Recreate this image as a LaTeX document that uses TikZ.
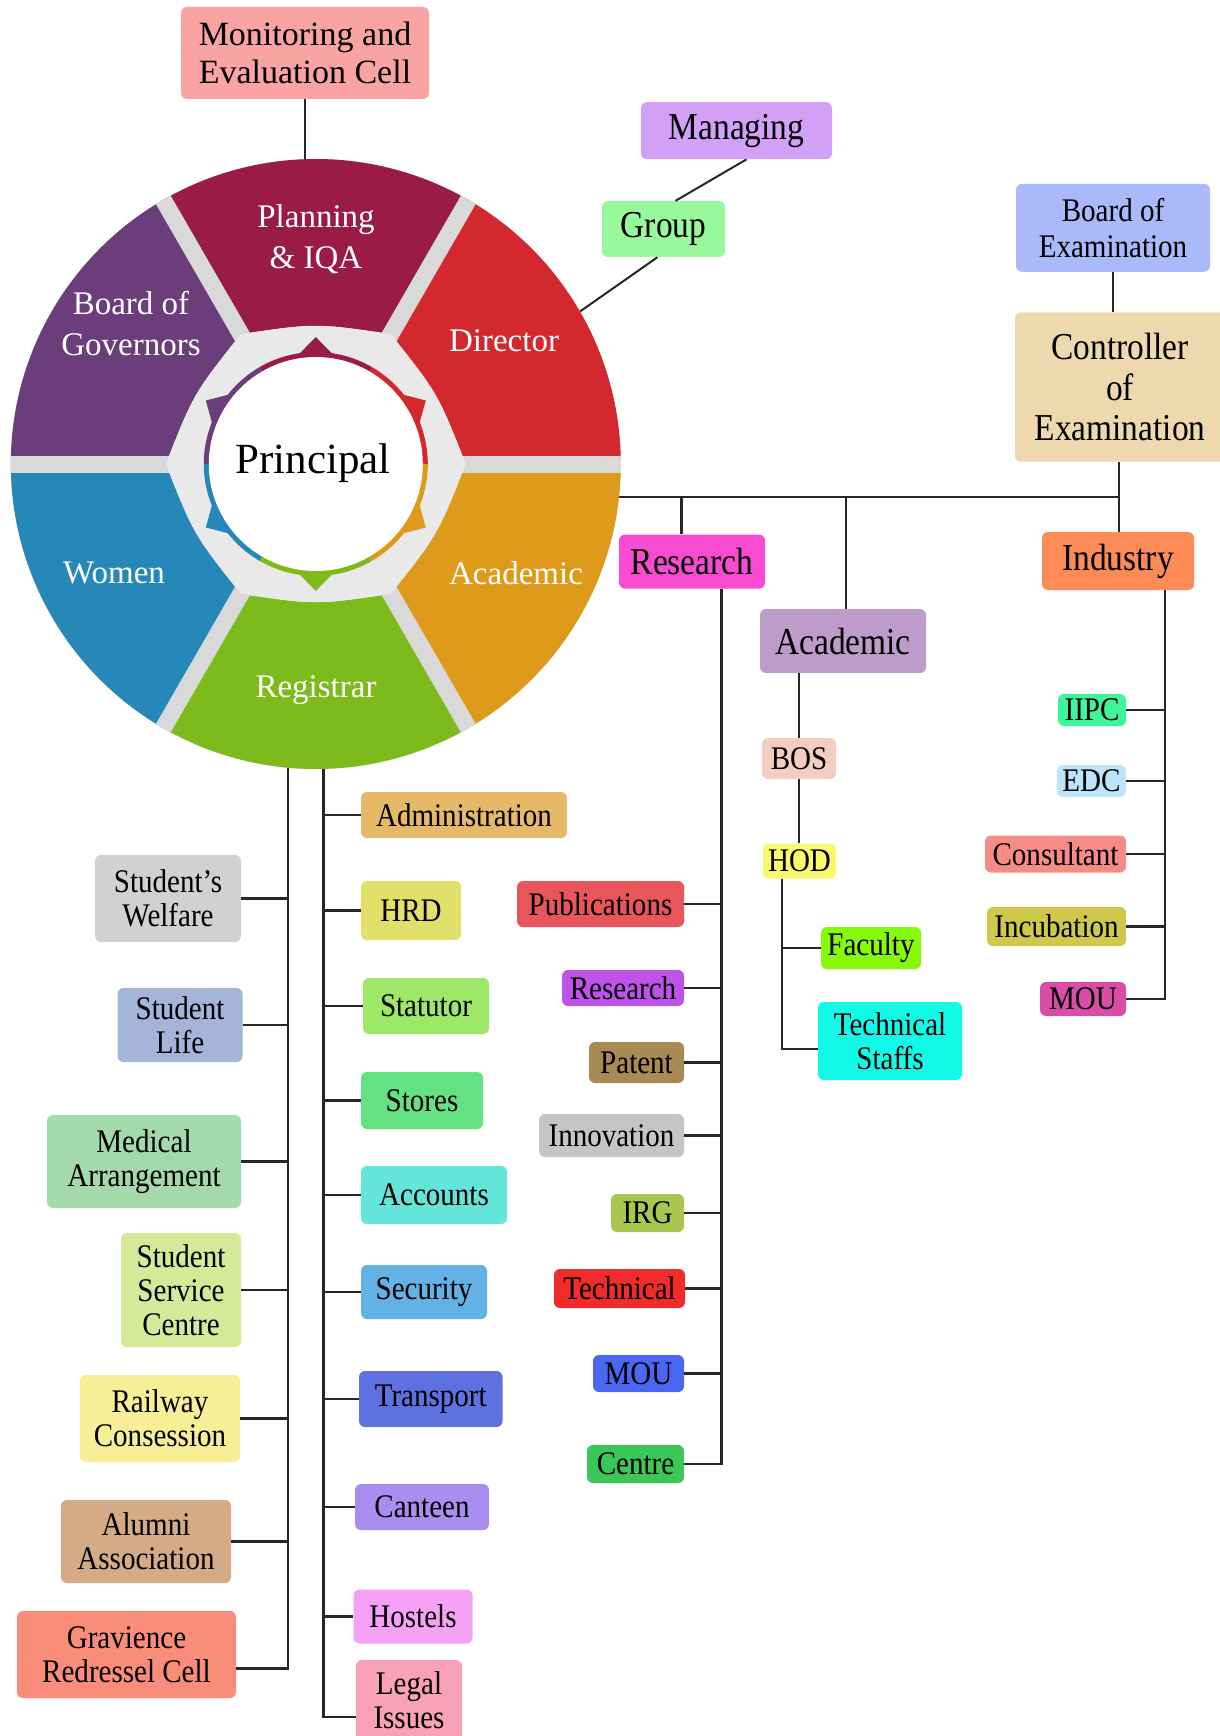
\documentclass[tikz,border=0pt]{standalone}
\usepackage{fontspec}
\setmainfont{Liberation Serif}
\newfontfamily\cf[FakeStretch=0.88]{Liberation Serif}
\definecolor{cplan}{HTML}{9A1B45}
\definecolor{cdir}{HTML}{D4282F}
\definecolor{cacad}{HTML}{DE9A1A}
\definecolor{creg}{HTML}{7DBB1C}
\definecolor{cwomen}{HTML}{2688B9}
\definecolor{cboard}{HTML}{6B3E7B}
\definecolor{gapgray}{HTML}{D9D9D9}
\definecolor{ringgray}{HTML}{E9E9E9}
\definecolor{cmec}{HTML}{F9A4A2}
\definecolor{cmanag}{HTML}{D3A0F8}
\definecolor{cgroup}{HTML}{97F99B}
\definecolor{cboe}{HTML}{A9B9F9}
\definecolor{ccoe}{HTML}{EED9AF}
\definecolor{cresearch}{HTML}{F94BD1}
\definecolor{cindustry}{HTML}{FD8B56}
\definecolor{cacadbox}{HTML}{BD9CC9}
\definecolor{cbos}{HTML}{F3CDBF}
\definecolor{chod}{HTML}{FAF86B}
\definecolor{cfac}{HTML}{87FA0C}
\definecolor{ctech}{HTML}{10FAE7}
\definecolor{cpub}{HTML}{E8565B}
\definecolor{cres2}{HTML}{BF52E9}
\definecolor{cpatent}{HTML}{A88B53}
\definecolor{cinnov}{HTML}{C5C5C5}
\definecolor{cirg}{HTML}{A9C74F}
\definecolor{ctechn}{HTML}{EF2B2B}
\definecolor{cmou1}{HTML}{4A67F1}
\definecolor{ccentre}{HTML}{3BC657}
\definecolor{ciipc}{HTML}{3FF59B}
\definecolor{cedc}{HTML}{BDE5F9}
\definecolor{ccons}{HTML}{F78B85}
\definecolor{cincub}{HTML}{CEC94B}
\definecolor{cmou2}{HTML}{D94DA9}
\definecolor{csw}{HTML}{D1D1D1}
\definecolor{csl}{HTML}{A5B5D9}
\definecolor{cma}{HTML}{A3D9AB}
\definecolor{cssc}{HTML}{D5E999}
\definecolor{crc}{HTML}{F7EF97}
\definecolor{caa}{HTML}{D5AB85}
\definecolor{cgrc}{HTML}{FA8D79}
\definecolor{cadmin}{HTML}{E5B967}
\definecolor{chrd}{HTML}{E1E169}
\definecolor{cstat}{HTML}{9DE967}
\definecolor{cstores}{HTML}{63E183}
\definecolor{cacc}{HTML}{63E5D9}
\definecolor{csec}{HTML}{63B1E5}
\definecolor{ctrans}{HTML}{5D71E1}
\definecolor{ccant}{HTML}{A98DEF}
\definecolor{chost}{HTML}{F5A1F5}
\definecolor{clegal}{HTML}{F9A1B9}
\begin{document}
\begin{tikzpicture}[x=1pt,y=-1pt,
  conn/.style={line width=2.4pt, draw=black!85},
  box/.style={rounded corners=6pt, inner sep=0pt, align=center, text=black, font=\cf\fontsize{33}{34}\selectfont},
  bigbox/.style={box, font=\cf\fontsize{38}{41}\selectfont},
  seg/.style={text=white, align=center, inner sep=0pt, font=\fontsize{33}{41}\selectfont}]
\fill[white] (0,0) rectangle (1219,1736);
\useasboundingbox (0,0) rectangle (1219,1736);

% ---------- top boxes
\node[box, fill=cmec, minimum width=248pt, minimum height=92pt, font=\fontsize{34}{38}\selectfont] (mec) at (305,53) {Monitoring and\\Evaluation Cell};
\node[bigbox, fill=cmanag, minimum width=191pt, minimum height=57pt] (managing) at (736.5,130.7) {Managing};
\node[bigbox, fill=cgroup, minimum width=123pt, minimum height=56pt] (group) at (663.5,229) {Group};
\node[box, fill=cboe, minimum width=194pt, minimum height=88pt, font=\cf\fontsize{33}{35.6}\selectfont] (boe) at (1113,227.8) {Board of\\Examination};
\node[box, fill=ccoe, minimum width=210pt, minimum height=149.4pt, font=\cf\fontsize{38}{40.5}\selectfont] (coe) at (1120,387) {Controller\\of\\Examination};
\node[bigbox, fill=cresearch, minimum width=146pt, minimum height=54pt] (research) at (692,561.5) {Research};
\node[bigbox, fill=cindustry, minimum width=152pt, minimum height=58pt] (industry) at (1118,561) {Industry};
\node[bigbox, fill=cacadbox, minimum width=166pt, minimum height=64pt] (academic) at (843,641) {Academic};

% ---------- academic branch
\node[box, fill=cbos, minimum width=74pt, minimum height=41pt] (bos) at (799,758.5) {BOS};
\node[box, fill=chod, minimum width=73pt, minimum height=35pt] (hod) at (799.5,861) {HOD};
\node[box, fill=cfac, minimum width=100pt, minimum height=42pt] (faculty) at (871,948) {Faculty};
\node[box, fill=ctech, minimum width=144pt, minimum height=78pt] (techstaffs) at (890,1041) {Technical\\Staffs};

% ---------- research branch
\node[box, fill=cpub, minimum width=167pt, minimum height=46pt] (pub) at (600.5,904) {Publications};
\node[box, fill=cres2, minimum width=122pt, minimum height=36pt] (res2) at (623,988) {Research};
\node[box, fill=cpatent, minimum width=95pt, minimum height=41pt] (patent) at (636.5,1062.5) {Patent};
\node[box, fill=cinnov, minimum width=145pt, minimum height=43pt] (innov) at (611.5,1135.5) {Innovation};
\node[box, fill=cirg, minimum width=73pt, minimum height=38pt] (irg) at (647.5,1213) {IRG};
\node[box, fill=ctechn, minimum width=131pt, minimum height=39pt] (tech) at (619.5,1288.5) {Technical};
\node[box, fill=cmou1, minimum width=91pt, minimum height=37pt] (mou1) at (638.5,1373.5) {MOU};
\node[box, fill=ccentre, minimum width=97pt, minimum height=38pt] (centre) at (635.5,1464) {Centre};

% ---------- industry branch
\node[box, fill=ciipc, minimum width=68pt, minimum height=32pt] (iipc) at (1092,710) {IIPC};
\node[box, fill=cedc, minimum width=69pt, minimum height=32pt] (edc) at (1091.5,781) {EDC};
\node[box, fill=ccons, minimum width=141pt, minimum height=37pt] (consultant) at (1055.5,854) {Consultant};
\node[box, fill=cincub, minimum width=139pt, minimum height=39pt] (incubation) at (1056.5,926.5) {Incubation};
\node[box, fill=cmou2, minimum width=86pt, minimum height=34pt] (mou2) at (1083,999) {MOU};

% ---------- registrar left
\node[box, fill=csw, minimum width=146pt, minimum height=87pt] (sw) at (168,898.5) {Student’s\\Welfare};
\node[box, fill=csl, minimum width=125pt, minimum height=74pt] (sl) at (180,1025) {Student\\Life};
\node[box, fill=cma, minimum width=194pt, minimum height=93pt] (ma) at (144,1161.5) {Medical\\Arrangement};
\node[box, fill=cssc, minimum width=120pt, minimum height=114pt] (ssc) at (181,1290) {Student\\Service\\Centre};
\node[box, fill=crc, minimum width=160pt, minimum height=87pt] (rc) at (160,1418.5) {Railway\\Consession};
\node[box, fill=caa, minimum width=170pt, minimum height=83pt] (aa) at (146,1541.5) {Alumni\\Association};
\node[box, fill=cgrc, minimum width=219pt, minimum height=87pt] (grc) at (126.5,1654.5) {Gravience\\Redressel Cell};

% ---------- registrar right
\node[box, fill=cadmin, minimum width=206pt, minimum height=46pt] (admin) at (464,815) {Administration};
\node[box, fill=chrd, minimum width=100pt, minimum height=59pt] (hrd) at (411,910.5) {HRD};
\node[box, fill=cstat, minimum width=126pt, minimum height=56pt] (stat) at (426,1006) {Statutor};
\node[box, fill=cstores, minimum width=122pt, minimum height=57pt] (stores) at (422,1100.5) {Stores};
\node[box, fill=cacc, minimum width=146pt, minimum height=58pt] (accounts) at (434,1195) {Accounts};
\node[box, fill=csec, minimum width=126pt, minimum height=54pt] (security) at (424,1292) {Security};
\node[box, fill=ctrans, minimum width=143.5pt, minimum height=56pt] (transport) at (430.75,1399) {Transport};
\node[box, fill=ccant, minimum width=134pt, minimum height=46pt] (canteen) at (422,1507) {Canteen};
\node[box, fill=chost, minimum width=119pt, minimum height=54pt] (hostels) at (413,1616.5) {Hostels};
\node[box, fill=clegal, minimum width=106pt, minimum height=80pt] (legal) at (409,1700) {Legal\\Issues};

% ---------- wheel anchor node
\node[circle, inner sep=0pt, minimum size=610pt] (wheel) at (315.8,464) {};

% ---------- connectors
\coordinate (jr) at (681.5,497);
\coordinate (ja) at (846,497);
\coordinate (jc) at (1119,497);
\coordinate (rv) at (721.5,0);
\coordinate (iv) at (1165,0);
\coordinate (hv) at (782,0);
\coordinate (lv) at (287.7,0);
\coordinate (lvend) at (287.7,1668.5);
\coordinate (rr) at (323.5,0);

\draw[conn] (mec.south) -- (mec.south |- wheel.center);
\draw[conn, line width=2pt] ([xshift=10pt]managing.south) -- ([xshift=12pt]group.north);
\draw[conn, line width=2pt] ([xshift=-6pt]group.south) -- (wheel.30.8);
\draw[conn] (boe.south) -- (boe.south |- coe.north);
\draw[conn] (wheel.center |- jc) -- (jc);
\draw[conn] (coe.south -| jc) -- (jc |- industry.north);
\draw[conn] (jr) -- (jr |- research.north);
\draw[conn] (ja) -- (ja |- academic.north);

\draw[conn] (bos.north |- academic.south) -- (bos.north);
\draw[conn] (bos.south) -- (bos.south |- hod.north);
\draw[conn] (hv |- hod.south) |- ([yshift=-8pt]techstaffs.west);
\draw[conn] (faculty.west) -- (faculty.west -| hv);

\draw[conn] (rv |- research.south) |- (centre.east);
\foreach \n in {pub,res2,patent,innov,irg,tech,mou1}
  \draw[conn] (\n.east) -- (\n.east -| rv);

\draw[conn] (iv |- industry.south) |- (mou2.east);
\foreach \n in {iipc,edc,consultant,incubation}
  \draw[conn] (\n.east) -- (\n.east -| iv);

\draw[conn] (lv |- wheel.center) -- (lvend) -- ([yshift=-14pt]grc.east);
\foreach \n in {sw,sl,ma,ssc,rc,aa}
  \draw[conn] (\n.east) -- (\n.east -| lv);

\draw[conn] (rr |- wheel.center) |- ([yshift=-17pt]legal.west);
\foreach \n in {admin,hrd,stat,stores,accounts,security,transport,canteen,hostels}
  \draw[conn] (\n.west) -- (\n.west -| rr);

% ---------- wheel
\begin{scope}[shift={(315.8,464)}, y=1pt]
  \fill[gapgray] (0,0) circle (305);
  \foreach \a/\c [evaluate=\a as \b using \a+60, evaluate=\a as \m using \a+30] in {0/cdir,60/cplan,120/cboard,180/cwomen,240/creg,300/cacad}
    \fill[\c] (\a:150) .. controls (\m:141) .. (\b:150) -- (\b:305) arc[start angle=\b, end angle=\a, radius=305] -- cycle;
  \begin{scope}
    \clip (0,0) circle (305);
    \foreach \a in {0,60,...,300}
      \draw[line width=17pt, gapgray] (\a:100) -- (\a:330);
  \end{scope}
  \fill[ringgray] (0:150) .. controls (30:141) .. (60:150) .. controls (90:141) .. (120:150) .. controls (150:141) .. (180:150) .. controls (210:141) .. (240:150) .. controls (270:141) .. (300:150) .. controls (330:141) .. (360:150) -- cycle;
  \foreach \a/\c [evaluate=\a as \b using \a+60, evaluate=\a as \m using \a+30, evaluate=\a as \p using \a+19, evaluate=\a as \q using \a+41] in {0/cdir,60/cplan,120/cboard,180/cwomen,240/creg,300/cacad} {
    \fill[\c] (0,0) -- (\a:112) arc[start angle=\a, end angle=\b, radius=112] -- cycle;
    \fill[\c] (\p:108) -- (\m:127) -- (\q:108) -- cycle;
  }
  \fill[white] (0,0) circle (107);
\end{scope}

\node[seg] (lplan) at (316,239.5) {Planning\\\& IQA};
\node[seg] (lboard) at (131,324) {Board of\\Governors};
\node[seg] (ldir) at (504,341) {Director};
\node[seg] (lwomen) at (114,573) {Women};
\node[seg] (lacad) at (516,573) {Academic};
\node[seg] (lreg) at (316,690) {Registrar};
\node[inner sep=0pt, font=\fontsize{43}{46}\selectfont] (principal) at (313,463) {Principal};
\end{tikzpicture}
\end{document}
